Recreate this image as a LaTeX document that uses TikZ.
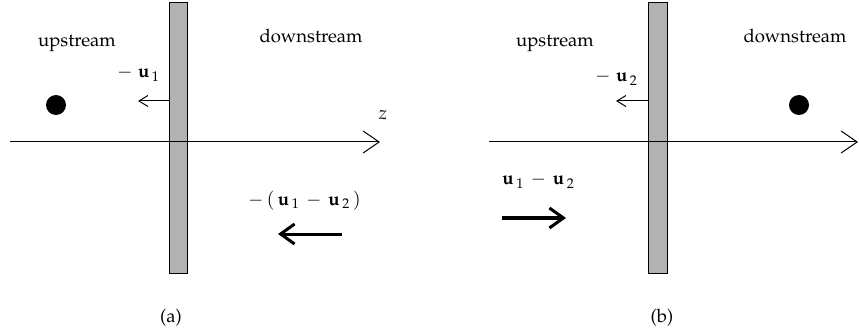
\documentclass[tikz,border=0pt]{standalone}
\usepackage[T1]{fontenc}
\usepackage{mathpazo}
\usetikzlibrary{arrows.meta}
\tikzset{
  bar/.style={draw=black, line width=1pt, fill=black!30},
  axis/.style={line width=1pt, -{Straight Barb[length=16pt,width=22pt,line width=1pt]}},
  thinarrow/.style={line width=1pt, -{Straight Barb[length=9pt,width=11pt,line width=1pt]}},
  thickarrow/.style={line width=3pt, -{Straight Barb[length=14pt,width=20pt,line width=3pt]}},
  txt/.style={font=\fontsize{18.5}{22}\selectfont, inner sep=0pt, anchor=base},
  lbl/.style={font=\fontsize{18.5}{22}\selectfont, inner sep=0pt, anchor=base west},
  dot/.style={fill=black, circle, minimum size=20pt, inner sep=0pt}
}
\begin{document}
\begin{tikzpicture}[x=1pt,y=-1pt]
\useasboundingbox (0,0) rectangle (859,331);
% ---------- panel (a)
\draw[bar] (169,3) rectangle (187,273);
\coordinate (axa0) at (10,142);
\coordinate (axa1) at (380,142);
\draw[axis] (axa0) -- (axa1);
\node[txt] (za) at (383,120) {$z$};
\node[dot] (dota) at (56,105) {};
\node[txt] (upa) at (77,47) {upstream};
\node[txt] (dna) at (311,43) {downstream};
\node[lbl] (u1a) at (117,78) {$-\;\mathbf{u}_{\,1}$};
\coordinate (ta0) at (169,101);
\coordinate (ta1) at (138,101);
\draw[thinarrow] (ta0) -- (ta1);
\node[lbl] (du) at (248,205) {$-\,(\,\mathbf{u}_{\,1}\,-\,\mathbf{u}_{\,2}\,)$};
\coordinate (Ta0) at (342,234);
\coordinate (Ta1) at (278,234);
\draw[thickarrow] (Ta0) -- (Ta1);
\node[txt] (capa) at (171,322) {(a)};
% ---------- panel (b)
\draw[bar] (648,3) rectangle (667,273);
\coordinate (axb0) at (489,142);
\coordinate (axb1) at (858,142);
\draw[axis] (axb0) -- (axb1);
\node[txt] (zb) at (864,120) {$z$};
\node[dot] (dotb) at (799,105) {};
\node[txt] (upb) at (555,47) {upstream};
\node[txt] (dnb) at (795,43) {downstream};
\node[lbl] (u2b) at (595,82) {$-\;\mathbf{u}_{\,2}$};
\coordinate (tb0) at (648,101);
\coordinate (tb1) at (616,101);
\draw[thinarrow] (tb0) -- (tb1);
\node[lbl] (dub) at (502,185) {$\mathbf{u}_{\,1}\,-\,\mathbf{u}_{\,2}$};
\coordinate (Tb0) at (502,218);
\coordinate (Tb1) at (566,218);
\draw[thickarrow] (Tb0) -- (Tb1);
\node[txt] (capb) at (662,322) {(b)};
\end{tikzpicture}
\end{document}
